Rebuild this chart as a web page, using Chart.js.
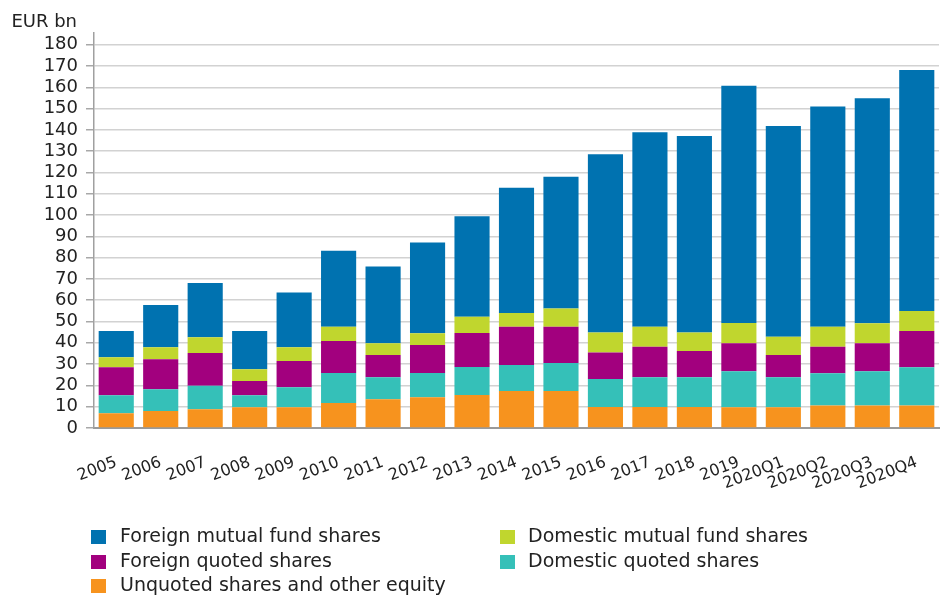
<!DOCTYPE html>
<html>
<head>
<meta charset="utf-8">
<script src="https://cdn.jsdelivr.net/npm/chart.js@4/dist/chart.umd.min.js"></script>
<style>
  body { margin: 0; background: #fff; }
  #wrap { position: relative; width: 944px; height: 599px; font-family: "DejaVu Sans", sans-serif; color: #222; }
  #legend { position: absolute; left: 0; top: 523px; width: 944px; }
  .item { position: absolute; height: 24px; line-height: 24px; font-size: 19px; white-space: nowrap; }
  .box { position: absolute; top: 7px; width: 15px; height: 14px; }
  .item span.txt { position: absolute; top: 0; }
</style>
</head>
<body>
<div id="wrap">
  <canvas id="holdings" width="944" height="599"></canvas>
  <div id="legend"></div>
</div>
<script>
// values, EUR bn
const periods = ['2005','2006','2007','2008','2009','2010','2011','2012','2013','2014','2015','2016','2017','2018','2019','2020Q1','2020Q2','2020Q3','2020Q4'];
const unquoted       = [6.9, 8.0, 8.8, 9.7, 9.7, 11.7, 13.5, 14.4, 15.5, 17.4, 17.4, 9.9, 9.9, 9.9, 9.8, 9.7, 10.6, 10.6, 10.6];
const domesticQuoted = [8.5, 10.2, 11.1, 5.7, 9.4, 14.1, 10.3, 11.4, 13.2, 12.2, 13.1, 13.1, 13.9, 13.9, 16.8, 14.1, 15.1, 16.0, 17.9];
const foreignQuoted  = [13.1, 14.1, 15.3, 6.7, 12.4, 15.1, 10.5, 13.2, 15.9, 18.0, 17.1, 12.4, 14.3, 12.4, 13.2, 10.5, 12.5, 13.2, 17.1];
const domesticMutual = [4.7, 5.6, 7.4, 5.5, 6.4, 6.6, 5.5, 5.5, 7.6, 6.4, 8.5, 9.4, 9.4, 8.6, 9.5, 8.6, 9.4, 9.4, 9.4];
const foreignMutual  = [12.4, 19.9, 25.5, 18.0, 25.7, 35.7, 36.0, 42.6, 47.3, 58.8, 61.9, 83.8, 91.4, 92.3, 111.4, 98.9, 103.4, 105.7, 113.1];
const yTicks = [0, 180, 10]; // min, last labelled tick, step

const colors = { fm: '#0072b0', dm: '#c0d62e', fq: '#a2007e', dq: '#35c0b8', uq: '#f7931e' };

// stacking order bottom -> top
const datasets = [
  { label: 'Unquoted shares and other equity', data: unquoted, backgroundColor: colors.uq },
  { label: 'Domestic quoted shares', data: domesticQuoted, backgroundColor: colors.dq },
  { label: 'Foreign quoted shares', data: foreignQuoted, backgroundColor: colors.fq },
  { label: 'Domestic mutual fund shares', data: domesticMutual, backgroundColor: colors.dm },
  { label: 'Foreign mutual fund shares', data: foreignMutual, backgroundColor: colors.fm }
];
datasets.forEach(d => { d.barPercentage = 0.79; d.categoryPercentage = 1; d.borderWidth = 0; });

const unitLabel = {
  id: 'unitLabel',
  afterDraw(chart){
    const c = chart.ctx;
    c.save();
    c.font = '18px "DejaVu Sans"';
    c.fillStyle = '#222';
    c.textAlign = 'right';
    c.textBaseline = 'alphabetic';
    c.fillText('EUR bn', 77, 27);
    c.restore();
  }
};

new Chart(document.getElementById('holdings'), {
  type: 'bar',
  data: { labels: periods, datasets },
  options: {
    responsive: false,
    animation: false,
    layout: { padding: { left: 0, right: 5, top: 33, bottom: 0 } },
    plugins: { legend: { display: false }, tooltip: { enabled: false } },
    scales: {
      x: {
        stacked: true,
        grid: { display: false },
        border: { display: true, color: '#9a9a9a', width: 2 },
        ticks: { color: '#222', font: { family: 'DejaVu Sans', size: 16 }, minRotation: 21, maxRotation: 21, padding: 17, autoSkip: false },
        afterFit(s){ s.height = 171; }
      },
      y: {
        stacked: true,
        min: yTicks[0],
        max: 185.5,
        border: { display: true, color: '#a0a0a0', width: 1.5 },
        grid: { color: '#d2d2d2', lineWidth: 1.5, tickLength: 8, tickColor: '#a8a8a8' },
        ticks: { stepSize: yTicks[2], includeBounds: false, autoSkip: false, color: '#222', padding: 8, font: { family: 'DejaVu Sans', size: 18 } },
        afterBuildTicks(s){ s.ticks = s.ticks.filter(t => t.value <= yTicks[1]); },
        afterFit(s){ s.width = 94; }
      }
    }
  },
  plugins: [unitLabel]
});

// two-column legend like the reference
const legendItems = [
  { label: 'Foreign mutual fund shares', color: colors.fm, col: 0, row: 0 },
  { label: 'Domestic mutual fund shares', color: colors.dm, col: 1, row: 0 },
  { label: 'Foreign quoted shares', color: colors.fq, col: 0, row: 1 },
  { label: 'Domestic quoted shares', color: colors.dq, col: 1, row: 1 },
  { label: 'Unquoted shares and other equity', color: colors.uq, col: 0, row: 2 }
];
const colX = [91, 500];
const leg = document.getElementById('legend');
legendItems.forEach(it => {
  const el = document.createElement('div');
  el.className = 'item';
  el.style.left = colX[it.col] + 'px';
  el.style.top = (it.row * 24.5) + 'px';
  el.innerHTML = '<span class="box" style="left:0;background:' + it.color + '"></span><span class="txt" style="left:' + (it.col ? 28 : 29) + 'px">' + it.label + '</span>';
  leg.appendChild(el);
});
</script>
</body>
</html>
